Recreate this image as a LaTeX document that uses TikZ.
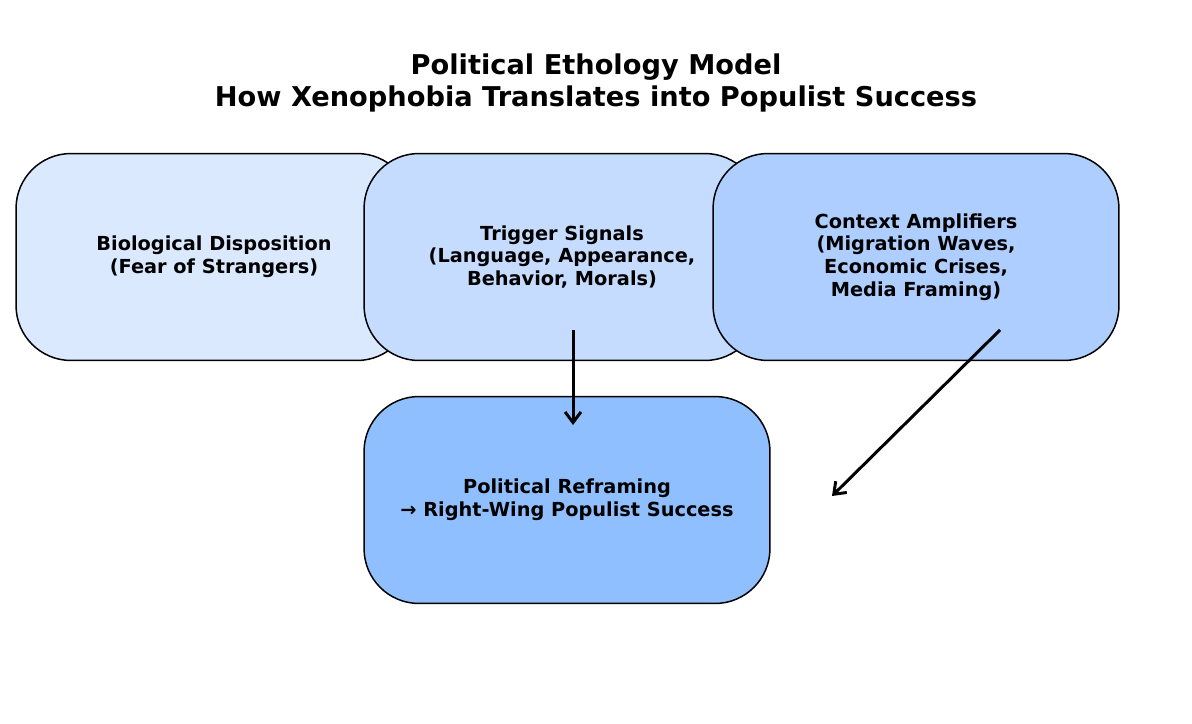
\documentclass[tikz,border=0pt]{standalone}
\usepackage{fontspec}
\setmainfont{DejaVu Sans}
\usepackage{tikz}
\usetikzlibrary{arrows.meta, positioning}

\definecolor{boxA}{HTML}{DBE9FF}
\definecolor{boxB}{HTML}{C6DCFF}
\definecolor{boxC}{HTML}{ADCEFF}
\definecolor{boxD}{HTML}{8FBFFF}

\tikzset{
  stage/.style={draw=black, line width=0.85pt, rounded corners=1.1cm,
    minimum width=7.92cm, minimum height=4.14cm, align=center,
    font=\fontsize{11}{13}\selectfont\bfseries},
  flow/.style={line width=1.7pt, -{Straight Barb[length=6pt, width=9pt]}}
}

\begin{document}
\begin{tikzpicture}[x=0.02cm, y=-0.02cm]
        \useasboundingbox (0,0) rectangle (1192,723);

        \node[font=\fontsize{15.5}{18}\selectfont\bfseries, align=center] (title) at (596,83)
            {Political Ethology Model\\How Xenophobia Translates into Populist Success};

        % Stages
        \node[stage, fill=boxA] (bio) at (214,257) {Biological Disposition\\(Fear of Strangers)};
        \node[stage, fill=boxB] (trigger) at (562,257) {Trigger Signals\\(Language, Appearance,\\Behavior, Morals)};
        \node[stage, fill=boxC, minimum width=8.12cm] (context) at (916,257)
            {Context Amplifiers\\(Migration Waves,\\Economic Crises,\\Media Framing)};
        \node[stage, fill=boxD, minimum width=8.12cm] (reframe) at (567,500)
            {Political Reframing\\→ Right-Wing Populist Success};

        % Arrows
        \coordinate (t1) at (573,330);
        \coordinate (t2) at (573,425);
        \coordinate (c1) at (1000,330);
        \coordinate (c2) at (832,496);
        \draw[flow] (t1) -- (t2);
        \draw[flow] (c1) -- (c2);

    \end{tikzpicture}
\end{document}
